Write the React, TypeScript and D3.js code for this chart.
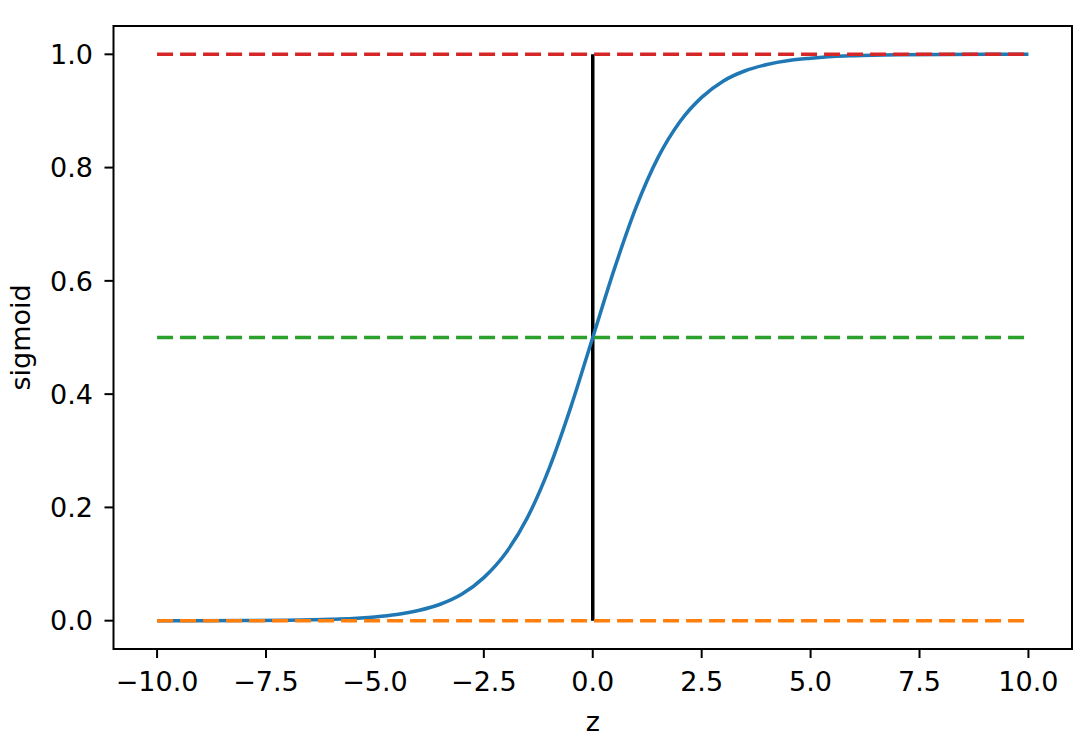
import React from "react";
import * as d3 from "d3";

const zValues = [-10, -8, -7, -6, -5.5, -5, -4.5, -4, -3.5, -3, -2.5, -2, -1.5, -1, -0.5, 0, 0.5, 1, 1.5, 2, 2.5, 3, 3.5, 4, 4.5, 5, 5.5, 6, 7, 8, 10];
const sigmoidValues = [0.0, 0.0003, 0.0009, 0.0025, 0.004, 0.0067, 0.011, 0.018, 0.029, 0.047, 0.076, 0.119, 0.182, 0.269, 0.378, 0.5, 0.622, 0.731, 0.818, 0.881, 0.924, 0.953, 0.971, 0.982, 0.989, 0.993, 0.996, 0.9975, 0.9991, 0.9997, 1.0];
const xTicks = [-10, -7.5, -5, -2.5, 0, 2.5, 5, 7.5, 10];
const yTicks = [0, 0.2, 0.4, 0.6, 0.8, 1.0];
const hLines = [
  { y: 1.0, color: "#d62728" },
  { y: 0.5, color: "#2ca02c" },
  { y: 0.0, color: "#ff7f0e" },
];
const xDomain = [-11, 11];
const yDomain = [-0.05, 1.05];

const W = 1084, H = 744;
const L = 113.5, R = 1072, T = 26, B = 649;
const FONT = "DejaVu Sans, sans-serif";
const FS = 27;

export default function App() {
  const x = d3.scaleLinear().domain(xDomain).range([L, R]);
  const y = d3.scaleLinear().domain(yDomain).range([B, T]);
  const fmt = d3.format(".1f");
  const pts = zValues.map((z, i) => [z, sigmoidValues[i]] as [number, number]);
  const line = d3.line<[number, number]>().x(d => x(d[0])).y(d => y(d[1])).curve(d3.curveMonotoneX);

  return (
    <svg width={W} height={H} style={{ position: "absolute", left: 0, top: 0, background: "#fff" }} fontFamily={FONT}>
      <rect x={0} y={0} width={W} height={H} fill="#fff" />
      {/* vertical black line */}
      <line x1={x(0)} x2={x(0)} y1={y(0)} y2={y(1)} stroke="#000" strokeWidth={3.5} />
      {/* sigmoid curve */}
      <path d={line(pts) || ""} fill="none" stroke="#1f77b4" strokeWidth={3.5} />
      {/* dashed lines */}
      {hLines.map((h, i) => (
        <line key={i} x1={x(-10)} x2={x(10)} y1={y(h.y)} y2={y(h.y)} stroke={h.color} strokeWidth={3.5} strokeDasharray="16,7" />
      ))}
      {/* spines */}
      <rect x={L} y={T} width={R - L} height={B - T} fill="none" stroke="#000" strokeWidth={2} />
      {/* x ticks */}
      {xTicks.map((t, i) => (
        <g key={i}>
          <line x1={x(t)} x2={x(t)} y1={B} y2={B + 9} stroke="#000" strokeWidth={2} />
          <text x={x(t)} y={691} textAnchor="middle" fontSize={FS} fill="#000">{fmt(t)}</text>
        </g>
      ))}
      {/* y ticks */}
      {yTicks.map((t, i) => (
        <g key={i}>
          <line x1={L - 9} x2={L} y1={y(t)} y2={y(t)} stroke="#000" strokeWidth={2} />
          <text x={93} y={y(t)} dy="0.36em" textAnchor="end" fontSize={FS} fill="#000">{fmt(t)}</text>
        </g>
      ))}
      <text x={(L + R) / 2} y={731} textAnchor="middle" fontSize={FS} fill="#000">z</text>
      <text transform={`translate(30,${(T + B) / 2}) rotate(-90)`} textAnchor="middle" fontSize={FS} fill="#000">sigmoid</text>
    </svg>
  );
}
